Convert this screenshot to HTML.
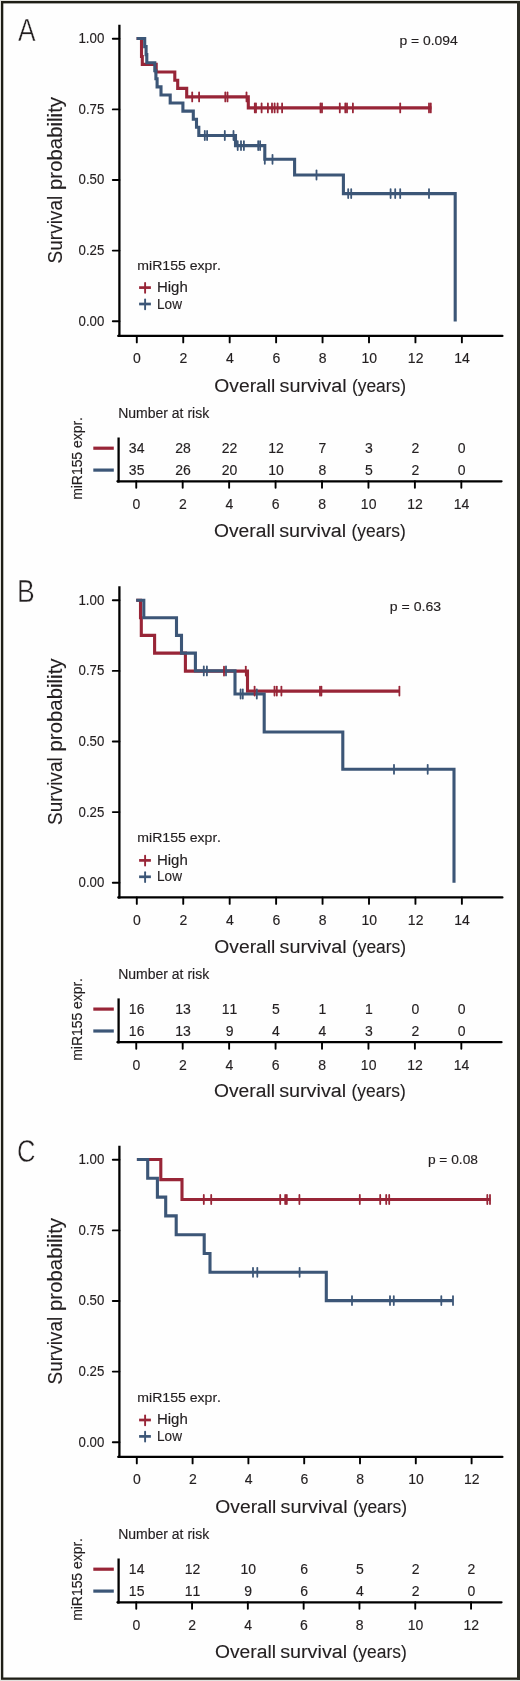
<!DOCTYPE html><html><head><meta charset="utf-8"><style>html,body{margin:0;padding:0;background:#fff;}svg{display:block;font-family:"Liberation Sans", sans-serif;will-change:transform;font-kerning:none;}</style></head><body>
<svg width="520" height="1681" viewBox="0 0 520 1681">
<rect x="0" y="0" width="520" height="1681" fill="#e2e2de"/>
<rect x="1" y="1" width="519" height="1678.8" fill="#1e1e16"/>
<rect x="517" y="1" width="3" height="1678.8" fill="#2c2c24"/>
<rect x="3.3" y="3.4" width="513.7" height="1674.1" fill="#fefefe"/>
<text x="0" y="0" font-size="30.5" fill="#231f20" stroke="#fefefe" stroke-width="0.45" transform="translate(18.05,41.30) scale(0.865,1)">A</text>
<line x1="119.40" y1="24.80" x2="119.40" y2="337.05" stroke="#000" stroke-width="2.3" stroke-linecap="butt"/>
<line x1="118.25" y1="335.90" x2="502.40" y2="335.90" stroke="#000" stroke-width="2.3" stroke-linecap="round"/>
<line x1="118.25" y1="335.90" x2="119.40" y2="335.90" stroke="#000" stroke-width="2.3" stroke-linecap="butt"/>
<line x1="112.80" y1="38.80" x2="119.40" y2="38.80" stroke="#000" stroke-width="1.9" stroke-linecap="round"/>
<text x="78.38" y="43.25" font-size="14.0" fill="#231f20" stroke="#231f20" stroke-width="0.15" textLength="25.94" lengthAdjust="spacingAndGlyphs">1.00</text>
<line x1="112.80" y1="109.40" x2="119.40" y2="109.40" stroke="#000" stroke-width="1.9" stroke-linecap="round"/>
<text x="78.58" y="113.85" font-size="14.0" fill="#231f20" stroke="#231f20" stroke-width="0.15" textLength="25.77" lengthAdjust="spacingAndGlyphs">0.75</text>
<line x1="112.80" y1="180.00" x2="119.40" y2="180.00" stroke="#000" stroke-width="1.9" stroke-linecap="round"/>
<text x="78.58" y="184.45" font-size="14.0" fill="#231f20" stroke="#231f20" stroke-width="0.15" textLength="25.73" lengthAdjust="spacingAndGlyphs">0.50</text>
<line x1="112.80" y1="250.60" x2="119.40" y2="250.60" stroke="#000" stroke-width="1.9" stroke-linecap="round"/>
<text x="78.58" y="255.05" font-size="14.0" fill="#231f20" stroke="#231f20" stroke-width="0.15" textLength="25.77" lengthAdjust="spacingAndGlyphs">0.25</text>
<line x1="112.80" y1="321.20" x2="119.40" y2="321.20" stroke="#000" stroke-width="1.9" stroke-linecap="round"/>
<text x="78.58" y="325.65" font-size="14.0" fill="#231f20" stroke="#231f20" stroke-width="0.15" textLength="25.73" lengthAdjust="spacingAndGlyphs">0.00</text>
<line x1="136.80" y1="335.90" x2="136.80" y2="342.40" stroke="#000" stroke-width="1.9" stroke-linecap="round"/>
<text x="137.00" y="363.00" font-size="14.0" text-anchor="middle" fill="#231f20" stroke="#231f20" stroke-width="0.15" >0</text>
<line x1="183.24" y1="335.90" x2="183.24" y2="342.40" stroke="#000" stroke-width="1.9" stroke-linecap="round"/>
<text x="183.44" y="363.00" font-size="14.0" text-anchor="middle" fill="#231f20" stroke="#231f20" stroke-width="0.15" >2</text>
<line x1="229.68" y1="335.90" x2="229.68" y2="342.40" stroke="#000" stroke-width="1.9" stroke-linecap="round"/>
<text x="229.88" y="363.00" font-size="14.0" text-anchor="middle" fill="#231f20" stroke="#231f20" stroke-width="0.15" >4</text>
<line x1="276.12" y1="335.90" x2="276.12" y2="342.40" stroke="#000" stroke-width="1.9" stroke-linecap="round"/>
<text x="276.32" y="363.00" font-size="14.0" text-anchor="middle" fill="#231f20" stroke="#231f20" stroke-width="0.15" >6</text>
<line x1="322.56" y1="335.90" x2="322.56" y2="342.40" stroke="#000" stroke-width="1.9" stroke-linecap="round"/>
<text x="322.76" y="363.00" font-size="14.0" text-anchor="middle" fill="#231f20" stroke="#231f20" stroke-width="0.15" >8</text>
<line x1="369.00" y1="335.90" x2="369.00" y2="342.40" stroke="#000" stroke-width="1.9" stroke-linecap="round"/>
<text x="369.20" y="363.00" font-size="14.0" text-anchor="middle" fill="#231f20" stroke="#231f20" stroke-width="0.15" >10</text>
<line x1="415.44" y1="335.90" x2="415.44" y2="342.40" stroke="#000" stroke-width="1.9" stroke-linecap="round"/>
<text x="415.64" y="363.00" font-size="14.0" text-anchor="middle" fill="#231f20" stroke="#231f20" stroke-width="0.15" >12</text>
<line x1="461.88" y1="335.90" x2="461.88" y2="342.40" stroke="#000" stroke-width="1.9" stroke-linecap="round"/>
<text x="462.08" y="363.00" font-size="14.0" text-anchor="middle" fill="#231f20" stroke="#231f20" stroke-width="0.15" >14</text>
<text x="214.39" y="391.50" font-size="19.2" fill="#231f20" stroke="#231f20" stroke-width="0.12" textLength="61.00" lengthAdjust="spacingAndGlyphs">Overall</text>
<text x="279.55" y="391.50" font-size="19.2" fill="#231f20" stroke="#231f20" stroke-width="0.12" textLength="67.07" lengthAdjust="spacingAndGlyphs">survival</text>
<text x="351.92" y="391.50" font-size="19.2" fill="#231f20" stroke="#231f20" stroke-width="0.12" textLength="54.16" lengthAdjust="spacingAndGlyphs">(years)</text>
<text x="-263.46" y="61.60" font-size="20.0" fill="#231f20" stroke="#231f20" stroke-width="0.12" textLength="67.64" lengthAdjust="spacingAndGlyphs" transform="rotate(-90)">Survival</text>
<text x="-190.02" y="61.60" font-size="20.0" fill="#231f20" stroke="#231f20" stroke-width="0.12" textLength="93.06" lengthAdjust="spacingAndGlyphs" transform="rotate(-90)">probability</text>
<text x="399.40" y="45.00" font-size="13.2" fill="#231f20" stroke="#231f20" stroke-width="0.15" textLength="58.40" lengthAdjust="spacingAndGlyphs">p = 0.094</text>
<text x="137.37" y="269.50" font-size="13.6" fill="#231f20" stroke="#231f20" stroke-width="0.15" textLength="83.62" lengthAdjust="spacingAndGlyphs">miR155 expr.</text>
<text x="156.97" y="291.80" font-size="14.2" fill="#231f20" stroke="#231f20" stroke-width="0.15" textLength="30.80" lengthAdjust="spacingAndGlyphs">High</text>
<text x="157.09" y="308.60" font-size="14.2" fill="#231f20" stroke="#231f20" stroke-width="0.15" textLength="24.88" lengthAdjust="spacingAndGlyphs">Low</text>
<line x1="145.10" y1="283.00" x2="145.10" y2="292.80" stroke="#982537" stroke-width="1.9" stroke-linecap="round"/>
<line x1="139.10" y1="287.60" x2="150.90" y2="287.60" stroke="#982537" stroke-width="2.7" stroke-linecap="butt"/>
<line x1="145.10" y1="299.40" x2="145.10" y2="309.20" stroke="#3c5677" stroke-width="1.9" stroke-linecap="round"/>
<line x1="139.10" y1="304.00" x2="150.90" y2="304.00" stroke="#3c5677" stroke-width="2.7" stroke-linecap="butt"/>
<path d="M136.60,38.50 L141.50,38.50 L141.50,56.50 L142.30,56.50 L142.30,64.40 L156.20,64.40 L156.20,72.00 L174.80,72.00 L174.80,80.30 L177.70,80.30 L177.70,88.40 L186.70,88.40 L186.70,96.90 L248.30,96.90 L248.30,107.90 L431.50,107.90" fill="none" stroke="#982537" stroke-width="3.1" stroke-linejoin="miter" stroke-linecap="butt"/>
<path d="M136.60,38.50 L144.70,38.50 L144.70,46.60 L146.10,46.60 L146.10,54.60 L146.80,54.60 L146.80,62.70 L154.80,62.70 L154.80,70.80 L155.90,70.80 L155.90,78.80 L157.10,78.80 L157.10,86.90 L161.00,86.90 L161.00,95.00 L170.20,95.00 L170.20,103.00 L182.90,103.00 L182.90,111.10 L193.30,111.10 L193.30,119.20 L196.50,119.20 L196.50,127.20 L198.80,127.20 L198.80,135.50 L235.50,135.50 L235.50,145.60 L264.80,145.60 L264.80,159.30 L294.60,159.30 L294.60,175.00 L343.40,175.00 L343.40,193.60 L455.20,193.60 L455.20,321.50" fill="none" stroke="#3c5677" stroke-width="3.1" stroke-linejoin="miter" stroke-linecap="butt"/>
<line x1="192.20" y1="92.40" x2="192.20" y2="101.40" stroke="#982537" stroke-width="1.8" stroke-linecap="round"/>
<line x1="199.10" y1="92.40" x2="199.10" y2="101.40" stroke="#982537" stroke-width="1.8" stroke-linecap="round"/>
<line x1="225.30" y1="92.40" x2="225.30" y2="101.40" stroke="#982537" stroke-width="1.8" stroke-linecap="round"/>
<line x1="227.50" y1="92.40" x2="227.50" y2="101.40" stroke="#982537" stroke-width="1.8" stroke-linecap="round"/>
<line x1="246.50" y1="92.40" x2="246.50" y2="101.40" stroke="#982537" stroke-width="1.8" stroke-linecap="round"/>
<line x1="254.80" y1="103.40" x2="254.80" y2="112.40" stroke="#982537" stroke-width="1.8" stroke-linecap="round"/>
<line x1="256.00" y1="103.40" x2="256.00" y2="112.40" stroke="#982537" stroke-width="1.8" stroke-linecap="round"/>
<line x1="261.60" y1="103.40" x2="261.60" y2="112.40" stroke="#982537" stroke-width="1.8" stroke-linecap="round"/>
<line x1="267.90" y1="103.40" x2="267.90" y2="112.40" stroke="#982537" stroke-width="1.8" stroke-linecap="round"/>
<line x1="272.00" y1="103.40" x2="272.00" y2="112.40" stroke="#982537" stroke-width="1.8" stroke-linecap="round"/>
<line x1="274.60" y1="103.40" x2="274.60" y2="112.40" stroke="#982537" stroke-width="1.8" stroke-linecap="round"/>
<line x1="277.60" y1="103.40" x2="277.60" y2="112.40" stroke="#982537" stroke-width="1.8" stroke-linecap="round"/>
<line x1="282.10" y1="103.40" x2="282.10" y2="112.40" stroke="#982537" stroke-width="1.8" stroke-linecap="round"/>
<line x1="320.50" y1="103.40" x2="320.50" y2="112.40" stroke="#982537" stroke-width="1.8" stroke-linecap="round"/>
<line x1="322.00" y1="103.40" x2="322.00" y2="112.40" stroke="#982537" stroke-width="1.8" stroke-linecap="round"/>
<line x1="339.80" y1="103.40" x2="339.80" y2="112.40" stroke="#982537" stroke-width="1.8" stroke-linecap="round"/>
<line x1="345.30" y1="103.40" x2="345.30" y2="112.40" stroke="#982537" stroke-width="1.8" stroke-linecap="round"/>
<line x1="347.00" y1="103.40" x2="347.00" y2="112.40" stroke="#982537" stroke-width="1.8" stroke-linecap="round"/>
<line x1="352.90" y1="103.40" x2="352.90" y2="112.40" stroke="#982537" stroke-width="1.8" stroke-linecap="round"/>
<line x1="400.20" y1="103.40" x2="400.20" y2="112.40" stroke="#982537" stroke-width="1.8" stroke-linecap="round"/>
<line x1="429.00" y1="103.40" x2="429.00" y2="112.40" stroke="#982537" stroke-width="1.8" stroke-linecap="round"/>
<line x1="430.80" y1="103.40" x2="430.80" y2="112.40" stroke="#982537" stroke-width="1.8" stroke-linecap="round"/>
<line x1="204.80" y1="131.00" x2="204.80" y2="140.00" stroke="#3c5677" stroke-width="1.8" stroke-linecap="round"/>
<line x1="207.10" y1="131.00" x2="207.10" y2="140.00" stroke="#3c5677" stroke-width="1.8" stroke-linecap="round"/>
<line x1="224.80" y1="131.00" x2="224.80" y2="140.00" stroke="#3c5677" stroke-width="1.8" stroke-linecap="round"/>
<line x1="233.50" y1="131.00" x2="233.50" y2="140.00" stroke="#3c5677" stroke-width="1.8" stroke-linecap="round"/>
<line x1="237.70" y1="141.10" x2="237.70" y2="150.10" stroke="#3c5677" stroke-width="1.8" stroke-linecap="round"/>
<line x1="241.00" y1="141.10" x2="241.00" y2="150.10" stroke="#3c5677" stroke-width="1.8" stroke-linecap="round"/>
<line x1="243.90" y1="141.10" x2="243.90" y2="150.10" stroke="#3c5677" stroke-width="1.8" stroke-linecap="round"/>
<line x1="258.20" y1="141.10" x2="258.20" y2="150.10" stroke="#3c5677" stroke-width="1.8" stroke-linecap="round"/>
<line x1="260.10" y1="141.10" x2="260.10" y2="150.10" stroke="#3c5677" stroke-width="1.8" stroke-linecap="round"/>
<line x1="264.80" y1="154.80" x2="264.80" y2="163.80" stroke="#3c5677" stroke-width="1.8" stroke-linecap="round"/>
<line x1="272.50" y1="154.80" x2="272.50" y2="163.80" stroke="#3c5677" stroke-width="1.8" stroke-linecap="round"/>
<line x1="316.50" y1="170.50" x2="316.50" y2="179.50" stroke="#3c5677" stroke-width="1.8" stroke-linecap="round"/>
<line x1="348.20" y1="189.10" x2="348.20" y2="198.10" stroke="#3c5677" stroke-width="1.8" stroke-linecap="round"/>
<line x1="351.20" y1="189.10" x2="351.20" y2="198.10" stroke="#3c5677" stroke-width="1.8" stroke-linecap="round"/>
<line x1="390.60" y1="189.10" x2="390.60" y2="198.10" stroke="#3c5677" stroke-width="1.8" stroke-linecap="round"/>
<line x1="395.20" y1="189.10" x2="395.20" y2="198.10" stroke="#3c5677" stroke-width="1.8" stroke-linecap="round"/>
<line x1="400.20" y1="189.10" x2="400.20" y2="198.10" stroke="#3c5677" stroke-width="1.8" stroke-linecap="round"/>
<line x1="429.00" y1="189.10" x2="429.00" y2="198.10" stroke="#3c5677" stroke-width="1.8" stroke-linecap="round"/>
<text x="118.15" y="417.60" font-size="13.8" fill="#231f20" stroke="#231f20" stroke-width="0.15" textLength="91.03" lengthAdjust="spacingAndGlyphs">Number at risk</text>
<text x="-499.82" y="82.10" font-size="14.2" fill="#231f20" stroke="#231f20" stroke-width="0.15" textLength="82.69" lengthAdjust="spacingAndGlyphs" transform="rotate(-90)">miR155 expr.</text>
<line x1="118.60" y1="437.50" x2="118.60" y2="482.45" stroke="#000" stroke-width="2.3" stroke-linecap="butt"/>
<line x1="117.45" y1="481.30" x2="501.50" y2="481.30" stroke="#000" stroke-width="2.3" stroke-linecap="round"/>
<line x1="117.45" y1="481.30" x2="118.60" y2="481.30" stroke="#000" stroke-width="2.3" stroke-linecap="butt"/>
<line x1="93.30" y1="448.20" x2="113.80" y2="448.20" stroke="#982537" stroke-width="3.2" stroke-linecap="butt"/>
<line x1="93.30" y1="470.10" x2="113.80" y2="470.10" stroke="#3c5677" stroke-width="3.2" stroke-linecap="butt"/>
<line x1="136.25" y1="481.30" x2="136.25" y2="487.80" stroke="#000" stroke-width="1.9" stroke-linecap="round"/>
<text x="136.45" y="508.60" font-size="14.0" text-anchor="middle" fill="#231f20" stroke="#231f20" stroke-width="0.15" >0</text>
<text x="136.65" y="453.20" font-size="14.0" text-anchor="middle" fill="#231f20" stroke="#231f20" stroke-width="0.15" >34</text>
<text x="136.65" y="474.70" font-size="14.0" text-anchor="middle" fill="#231f20" stroke="#231f20" stroke-width="0.15" >35</text>
<line x1="182.69" y1="481.30" x2="182.69" y2="487.80" stroke="#000" stroke-width="1.9" stroke-linecap="round"/>
<text x="182.89" y="508.60" font-size="14.0" text-anchor="middle" fill="#231f20" stroke="#231f20" stroke-width="0.15" >2</text>
<text x="183.09" y="453.20" font-size="14.0" text-anchor="middle" fill="#231f20" stroke="#231f20" stroke-width="0.15" >28</text>
<text x="183.09" y="474.70" font-size="14.0" text-anchor="middle" fill="#231f20" stroke="#231f20" stroke-width="0.15" >26</text>
<line x1="229.13" y1="481.30" x2="229.13" y2="487.80" stroke="#000" stroke-width="1.9" stroke-linecap="round"/>
<text x="229.33" y="508.60" font-size="14.0" text-anchor="middle" fill="#231f20" stroke="#231f20" stroke-width="0.15" >4</text>
<text x="229.53" y="453.20" font-size="14.0" text-anchor="middle" fill="#231f20" stroke="#231f20" stroke-width="0.15" >22</text>
<text x="229.53" y="474.70" font-size="14.0" text-anchor="middle" fill="#231f20" stroke="#231f20" stroke-width="0.15" >20</text>
<line x1="275.57" y1="481.30" x2="275.57" y2="487.80" stroke="#000" stroke-width="1.9" stroke-linecap="round"/>
<text x="275.77" y="508.60" font-size="14.0" text-anchor="middle" fill="#231f20" stroke="#231f20" stroke-width="0.15" >6</text>
<text x="275.97" y="453.20" font-size="14.0" text-anchor="middle" fill="#231f20" stroke="#231f20" stroke-width="0.15" >12</text>
<text x="275.97" y="474.70" font-size="14.0" text-anchor="middle" fill="#231f20" stroke="#231f20" stroke-width="0.15" >10</text>
<line x1="322.01" y1="481.30" x2="322.01" y2="487.80" stroke="#000" stroke-width="1.9" stroke-linecap="round"/>
<text x="322.21" y="508.60" font-size="14.0" text-anchor="middle" fill="#231f20" stroke="#231f20" stroke-width="0.15" >8</text>
<text x="322.41" y="453.20" font-size="14.0" text-anchor="middle" fill="#231f20" stroke="#231f20" stroke-width="0.15" >7</text>
<text x="322.41" y="474.70" font-size="14.0" text-anchor="middle" fill="#231f20" stroke="#231f20" stroke-width="0.15" >8</text>
<line x1="368.45" y1="481.30" x2="368.45" y2="487.80" stroke="#000" stroke-width="1.9" stroke-linecap="round"/>
<text x="368.65" y="508.60" font-size="14.0" text-anchor="middle" fill="#231f20" stroke="#231f20" stroke-width="0.15" >10</text>
<text x="368.85" y="453.20" font-size="14.0" text-anchor="middle" fill="#231f20" stroke="#231f20" stroke-width="0.15" >3</text>
<text x="368.85" y="474.70" font-size="14.0" text-anchor="middle" fill="#231f20" stroke="#231f20" stroke-width="0.15" >5</text>
<line x1="414.89" y1="481.30" x2="414.89" y2="487.80" stroke="#000" stroke-width="1.9" stroke-linecap="round"/>
<text x="415.09" y="508.60" font-size="14.0" text-anchor="middle" fill="#231f20" stroke="#231f20" stroke-width="0.15" >12</text>
<text x="415.29" y="453.20" font-size="14.0" text-anchor="middle" fill="#231f20" stroke="#231f20" stroke-width="0.15" >2</text>
<text x="415.29" y="474.70" font-size="14.0" text-anchor="middle" fill="#231f20" stroke="#231f20" stroke-width="0.15" >2</text>
<line x1="461.33" y1="481.30" x2="461.33" y2="487.80" stroke="#000" stroke-width="1.9" stroke-linecap="round"/>
<text x="461.53" y="508.60" font-size="14.0" text-anchor="middle" fill="#231f20" stroke="#231f20" stroke-width="0.15" >14</text>
<text x="461.73" y="453.20" font-size="14.0" text-anchor="middle" fill="#231f20" stroke="#231f20" stroke-width="0.15" >0</text>
<text x="461.73" y="474.70" font-size="14.0" text-anchor="middle" fill="#231f20" stroke="#231f20" stroke-width="0.15" >0</text>
<text x="213.99" y="536.50" font-size="19.2" fill="#231f20" stroke="#231f20" stroke-width="0.12" textLength="61.00" lengthAdjust="spacingAndGlyphs">Overall</text>
<text x="279.15" y="536.50" font-size="19.2" fill="#231f20" stroke="#231f20" stroke-width="0.12" textLength="67.07" lengthAdjust="spacingAndGlyphs">survival</text>
<text x="351.52" y="536.50" font-size="19.2" fill="#231f20" stroke="#231f20" stroke-width="0.12" textLength="54.16" lengthAdjust="spacingAndGlyphs">(years)</text>
<text x="0" y="0" font-size="30.5" fill="#231f20" stroke="#fefefe" stroke-width="0.45" transform="translate(17.12,601.90) scale(0.87,1)">B</text>
<line x1="119.40" y1="586.30" x2="119.40" y2="898.55" stroke="#000" stroke-width="2.3" stroke-linecap="butt"/>
<line x1="118.25" y1="897.40" x2="502.40" y2="897.40" stroke="#000" stroke-width="2.3" stroke-linecap="round"/>
<line x1="118.25" y1="897.40" x2="119.40" y2="897.40" stroke="#000" stroke-width="2.3" stroke-linecap="butt"/>
<line x1="112.80" y1="600.30" x2="119.40" y2="600.30" stroke="#000" stroke-width="1.9" stroke-linecap="round"/>
<text x="78.38" y="604.75" font-size="14.0" fill="#231f20" stroke="#231f20" stroke-width="0.15" textLength="25.94" lengthAdjust="spacingAndGlyphs">1.00</text>
<line x1="112.80" y1="670.90" x2="119.40" y2="670.90" stroke="#000" stroke-width="1.9" stroke-linecap="round"/>
<text x="78.58" y="675.35" font-size="14.0" fill="#231f20" stroke="#231f20" stroke-width="0.15" textLength="25.77" lengthAdjust="spacingAndGlyphs">0.75</text>
<line x1="112.80" y1="741.50" x2="119.40" y2="741.50" stroke="#000" stroke-width="1.9" stroke-linecap="round"/>
<text x="78.58" y="745.95" font-size="14.0" fill="#231f20" stroke="#231f20" stroke-width="0.15" textLength="25.73" lengthAdjust="spacingAndGlyphs">0.50</text>
<line x1="112.80" y1="812.10" x2="119.40" y2="812.10" stroke="#000" stroke-width="1.9" stroke-linecap="round"/>
<text x="78.58" y="816.55" font-size="14.0" fill="#231f20" stroke="#231f20" stroke-width="0.15" textLength="25.77" lengthAdjust="spacingAndGlyphs">0.25</text>
<line x1="112.80" y1="882.70" x2="119.40" y2="882.70" stroke="#000" stroke-width="1.9" stroke-linecap="round"/>
<text x="78.58" y="887.15" font-size="14.0" fill="#231f20" stroke="#231f20" stroke-width="0.15" textLength="25.73" lengthAdjust="spacingAndGlyphs">0.00</text>
<line x1="136.80" y1="897.40" x2="136.80" y2="903.90" stroke="#000" stroke-width="1.9" stroke-linecap="round"/>
<text x="137.00" y="924.50" font-size="14.0" text-anchor="middle" fill="#231f20" stroke="#231f20" stroke-width="0.15" >0</text>
<line x1="183.24" y1="897.40" x2="183.24" y2="903.90" stroke="#000" stroke-width="1.9" stroke-linecap="round"/>
<text x="183.44" y="924.50" font-size="14.0" text-anchor="middle" fill="#231f20" stroke="#231f20" stroke-width="0.15" >2</text>
<line x1="229.68" y1="897.40" x2="229.68" y2="903.90" stroke="#000" stroke-width="1.9" stroke-linecap="round"/>
<text x="229.88" y="924.50" font-size="14.0" text-anchor="middle" fill="#231f20" stroke="#231f20" stroke-width="0.15" >4</text>
<line x1="276.12" y1="897.40" x2="276.12" y2="903.90" stroke="#000" stroke-width="1.9" stroke-linecap="round"/>
<text x="276.32" y="924.50" font-size="14.0" text-anchor="middle" fill="#231f20" stroke="#231f20" stroke-width="0.15" >6</text>
<line x1="322.56" y1="897.40" x2="322.56" y2="903.90" stroke="#000" stroke-width="1.9" stroke-linecap="round"/>
<text x="322.76" y="924.50" font-size="14.0" text-anchor="middle" fill="#231f20" stroke="#231f20" stroke-width="0.15" >8</text>
<line x1="369.00" y1="897.40" x2="369.00" y2="903.90" stroke="#000" stroke-width="1.9" stroke-linecap="round"/>
<text x="369.20" y="924.50" font-size="14.0" text-anchor="middle" fill="#231f20" stroke="#231f20" stroke-width="0.15" >10</text>
<line x1="415.44" y1="897.40" x2="415.44" y2="903.90" stroke="#000" stroke-width="1.9" stroke-linecap="round"/>
<text x="415.64" y="924.50" font-size="14.0" text-anchor="middle" fill="#231f20" stroke="#231f20" stroke-width="0.15" >12</text>
<line x1="461.88" y1="897.40" x2="461.88" y2="903.90" stroke="#000" stroke-width="1.9" stroke-linecap="round"/>
<text x="462.08" y="924.50" font-size="14.0" text-anchor="middle" fill="#231f20" stroke="#231f20" stroke-width="0.15" >14</text>
<text x="214.39" y="952.70" font-size="19.2" fill="#231f20" stroke="#231f20" stroke-width="0.12" textLength="61.00" lengthAdjust="spacingAndGlyphs">Overall</text>
<text x="279.55" y="952.70" font-size="19.2" fill="#231f20" stroke="#231f20" stroke-width="0.12" textLength="67.07" lengthAdjust="spacingAndGlyphs">survival</text>
<text x="351.92" y="952.70" font-size="19.2" fill="#231f20" stroke="#231f20" stroke-width="0.12" textLength="54.16" lengthAdjust="spacingAndGlyphs">(years)</text>
<text x="-824.96" y="61.60" font-size="20.0" fill="#231f20" stroke="#231f20" stroke-width="0.12" textLength="67.64" lengthAdjust="spacingAndGlyphs" transform="rotate(-90)">Survival</text>
<text x="-751.52" y="61.60" font-size="20.0" fill="#231f20" stroke="#231f20" stroke-width="0.12" textLength="93.06" lengthAdjust="spacingAndGlyphs" transform="rotate(-90)">probability</text>
<text x="389.89" y="611.10" font-size="13.2" fill="#231f20" stroke="#231f20" stroke-width="0.15" textLength="51.22" lengthAdjust="spacingAndGlyphs">p = 0.63</text>
<text x="137.37" y="842.30" font-size="13.6" fill="#231f20" stroke="#231f20" stroke-width="0.15" textLength="83.62" lengthAdjust="spacingAndGlyphs">miR155 expr.</text>
<text x="156.97" y="864.60" font-size="14.2" fill="#231f20" stroke="#231f20" stroke-width="0.15" textLength="30.80" lengthAdjust="spacingAndGlyphs">High</text>
<text x="157.09" y="881.40" font-size="14.2" fill="#231f20" stroke="#231f20" stroke-width="0.15" textLength="24.88" lengthAdjust="spacingAndGlyphs">Low</text>
<line x1="145.10" y1="855.80" x2="145.10" y2="865.60" stroke="#982537" stroke-width="1.9" stroke-linecap="round"/>
<line x1="139.10" y1="860.40" x2="150.90" y2="860.40" stroke="#982537" stroke-width="2.7" stroke-linecap="butt"/>
<line x1="145.10" y1="872.20" x2="145.10" y2="882.00" stroke="#3c5677" stroke-width="1.9" stroke-linecap="round"/>
<line x1="139.10" y1="876.80" x2="150.90" y2="876.80" stroke="#3c5677" stroke-width="2.7" stroke-linecap="butt"/>
<path d="M136.20,600.20 L140.50,600.20 L140.50,617.80 L141.30,617.80 L141.30,635.40 L154.60,635.40 L154.60,653.10 L185.40,653.10 L185.40,671.10 L247.50,671.10 L247.50,691.10 L399.40,691.10" fill="none" stroke="#982537" stroke-width="3.1" stroke-linejoin="miter" stroke-linecap="butt"/>
<path d="M136.20,600.20 L143.80,600.20 L143.80,617.80 L176.50,617.80 L176.50,635.40 L181.50,635.40 L181.50,653.10 L195.40,653.10 L195.40,670.90 L235.00,670.90 L235.00,694.00 L264.20,694.00 L264.20,732.00 L342.80,732.00 L342.80,769.30 L454.00,769.30 L454.00,882.80" fill="none" stroke="#3c5677" stroke-width="3.1" stroke-linejoin="miter" stroke-linecap="butt"/>
<line x1="224.00" y1="666.60" x2="224.00" y2="675.60" stroke="#982537" stroke-width="1.8" stroke-linecap="round"/>
<line x1="245.80" y1="666.60" x2="245.80" y2="675.60" stroke="#982537" stroke-width="1.8" stroke-linecap="round"/>
<line x1="254.60" y1="686.60" x2="254.60" y2="695.60" stroke="#982537" stroke-width="1.8" stroke-linecap="round"/>
<line x1="274.50" y1="686.60" x2="274.50" y2="695.60" stroke="#982537" stroke-width="1.8" stroke-linecap="round"/>
<line x1="276.80" y1="686.60" x2="276.80" y2="695.60" stroke="#982537" stroke-width="1.8" stroke-linecap="round"/>
<line x1="281.40" y1="686.60" x2="281.40" y2="695.60" stroke="#982537" stroke-width="1.8" stroke-linecap="round"/>
<line x1="320.00" y1="686.60" x2="320.00" y2="695.60" stroke="#982537" stroke-width="1.8" stroke-linecap="round"/>
<line x1="321.40" y1="686.60" x2="321.40" y2="695.60" stroke="#982537" stroke-width="1.8" stroke-linecap="round"/>
<line x1="399.40" y1="686.60" x2="399.40" y2="695.60" stroke="#982537" stroke-width="1.8" stroke-linecap="round"/>
<line x1="203.80" y1="666.40" x2="203.80" y2="675.40" stroke="#3c5677" stroke-width="1.8" stroke-linecap="round"/>
<line x1="206.90" y1="666.40" x2="206.90" y2="675.40" stroke="#3c5677" stroke-width="1.8" stroke-linecap="round"/>
<line x1="226.00" y1="666.40" x2="226.00" y2="675.40" stroke="#3c5677" stroke-width="1.8" stroke-linecap="round"/>
<line x1="240.60" y1="689.50" x2="240.60" y2="698.50" stroke="#3c5677" stroke-width="1.8" stroke-linecap="round"/>
<line x1="242.80" y1="689.50" x2="242.80" y2="698.50" stroke="#3c5677" stroke-width="1.8" stroke-linecap="round"/>
<line x1="256.80" y1="689.50" x2="256.80" y2="698.50" stroke="#3c5677" stroke-width="1.8" stroke-linecap="round"/>
<line x1="394.00" y1="764.80" x2="394.00" y2="773.80" stroke="#3c5677" stroke-width="1.8" stroke-linecap="round"/>
<line x1="427.70" y1="764.80" x2="427.70" y2="773.80" stroke="#3c5677" stroke-width="1.8" stroke-linecap="round"/>
<text x="118.15" y="978.50" font-size="13.8" fill="#231f20" stroke="#231f20" stroke-width="0.15" textLength="91.03" lengthAdjust="spacingAndGlyphs">Number at risk</text>
<text x="-1060.72" y="82.10" font-size="14.2" fill="#231f20" stroke="#231f20" stroke-width="0.15" textLength="82.69" lengthAdjust="spacingAndGlyphs" transform="rotate(-90)">miR155 expr.</text>
<line x1="118.60" y1="998.40" x2="118.60" y2="1043.35" stroke="#000" stroke-width="2.3" stroke-linecap="butt"/>
<line x1="117.45" y1="1042.20" x2="501.50" y2="1042.20" stroke="#000" stroke-width="2.3" stroke-linecap="round"/>
<line x1="117.45" y1="1042.20" x2="118.60" y2="1042.20" stroke="#000" stroke-width="2.3" stroke-linecap="butt"/>
<line x1="93.30" y1="1009.10" x2="113.80" y2="1009.10" stroke="#982537" stroke-width="3.2" stroke-linecap="butt"/>
<line x1="93.30" y1="1031.00" x2="113.80" y2="1031.00" stroke="#3c5677" stroke-width="3.2" stroke-linecap="butt"/>
<line x1="136.25" y1="1042.20" x2="136.25" y2="1048.70" stroke="#000" stroke-width="1.9" stroke-linecap="round"/>
<text x="136.45" y="1069.50" font-size="14.0" text-anchor="middle" fill="#231f20" stroke="#231f20" stroke-width="0.15" >0</text>
<text x="136.65" y="1014.10" font-size="14.0" text-anchor="middle" fill="#231f20" stroke="#231f20" stroke-width="0.15" >16</text>
<text x="136.65" y="1035.60" font-size="14.0" text-anchor="middle" fill="#231f20" stroke="#231f20" stroke-width="0.15" >16</text>
<line x1="182.69" y1="1042.20" x2="182.69" y2="1048.70" stroke="#000" stroke-width="1.9" stroke-linecap="round"/>
<text x="182.89" y="1069.50" font-size="14.0" text-anchor="middle" fill="#231f20" stroke="#231f20" stroke-width="0.15" >2</text>
<text x="183.09" y="1014.10" font-size="14.0" text-anchor="middle" fill="#231f20" stroke="#231f20" stroke-width="0.15" >13</text>
<text x="183.09" y="1035.60" font-size="14.0" text-anchor="middle" fill="#231f20" stroke="#231f20" stroke-width="0.15" >13</text>
<line x1="229.13" y1="1042.20" x2="229.13" y2="1048.70" stroke="#000" stroke-width="1.9" stroke-linecap="round"/>
<text x="229.33" y="1069.50" font-size="14.0" text-anchor="middle" fill="#231f20" stroke="#231f20" stroke-width="0.15" >4</text>
<text x="229.53" y="1014.10" font-size="14.0" text-anchor="middle" fill="#231f20" stroke="#231f20" stroke-width="0.15" >11</text>
<text x="229.53" y="1035.60" font-size="14.0" text-anchor="middle" fill="#231f20" stroke="#231f20" stroke-width="0.15" >9</text>
<line x1="275.57" y1="1042.20" x2="275.57" y2="1048.70" stroke="#000" stroke-width="1.9" stroke-linecap="round"/>
<text x="275.77" y="1069.50" font-size="14.0" text-anchor="middle" fill="#231f20" stroke="#231f20" stroke-width="0.15" >6</text>
<text x="275.97" y="1014.10" font-size="14.0" text-anchor="middle" fill="#231f20" stroke="#231f20" stroke-width="0.15" >5</text>
<text x="275.97" y="1035.60" font-size="14.0" text-anchor="middle" fill="#231f20" stroke="#231f20" stroke-width="0.15" >4</text>
<line x1="322.01" y1="1042.20" x2="322.01" y2="1048.70" stroke="#000" stroke-width="1.9" stroke-linecap="round"/>
<text x="322.21" y="1069.50" font-size="14.0" text-anchor="middle" fill="#231f20" stroke="#231f20" stroke-width="0.15" >8</text>
<text x="322.41" y="1014.10" font-size="14.0" text-anchor="middle" fill="#231f20" stroke="#231f20" stroke-width="0.15" >1</text>
<text x="322.41" y="1035.60" font-size="14.0" text-anchor="middle" fill="#231f20" stroke="#231f20" stroke-width="0.15" >4</text>
<line x1="368.45" y1="1042.20" x2="368.45" y2="1048.70" stroke="#000" stroke-width="1.9" stroke-linecap="round"/>
<text x="368.65" y="1069.50" font-size="14.0" text-anchor="middle" fill="#231f20" stroke="#231f20" stroke-width="0.15" >10</text>
<text x="368.85" y="1014.10" font-size="14.0" text-anchor="middle" fill="#231f20" stroke="#231f20" stroke-width="0.15" >1</text>
<text x="368.85" y="1035.60" font-size="14.0" text-anchor="middle" fill="#231f20" stroke="#231f20" stroke-width="0.15" >3</text>
<line x1="414.89" y1="1042.20" x2="414.89" y2="1048.70" stroke="#000" stroke-width="1.9" stroke-linecap="round"/>
<text x="415.09" y="1069.50" font-size="14.0" text-anchor="middle" fill="#231f20" stroke="#231f20" stroke-width="0.15" >12</text>
<text x="415.29" y="1014.10" font-size="14.0" text-anchor="middle" fill="#231f20" stroke="#231f20" stroke-width="0.15" >0</text>
<text x="415.29" y="1035.60" font-size="14.0" text-anchor="middle" fill="#231f20" stroke="#231f20" stroke-width="0.15" >2</text>
<line x1="461.33" y1="1042.20" x2="461.33" y2="1048.70" stroke="#000" stroke-width="1.9" stroke-linecap="round"/>
<text x="461.53" y="1069.50" font-size="14.0" text-anchor="middle" fill="#231f20" stroke="#231f20" stroke-width="0.15" >14</text>
<text x="461.73" y="1014.10" font-size="14.0" text-anchor="middle" fill="#231f20" stroke="#231f20" stroke-width="0.15" >0</text>
<text x="461.73" y="1035.60" font-size="14.0" text-anchor="middle" fill="#231f20" stroke="#231f20" stroke-width="0.15" >0</text>
<text x="213.99" y="1097.40" font-size="19.2" fill="#231f20" stroke="#231f20" stroke-width="0.12" textLength="61.00" lengthAdjust="spacingAndGlyphs">Overall</text>
<text x="279.15" y="1097.40" font-size="19.2" fill="#231f20" stroke="#231f20" stroke-width="0.12" textLength="67.07" lengthAdjust="spacingAndGlyphs">survival</text>
<text x="351.52" y="1097.40" font-size="19.2" fill="#231f20" stroke="#231f20" stroke-width="0.12" textLength="54.16" lengthAdjust="spacingAndGlyphs">(years)</text>
<text x="0" y="0" font-size="30.5" fill="#231f20" stroke="#fefefe" stroke-width="0.45" transform="translate(17.10,1162.00) scale(0.84,1)">C</text>
<line x1="119.40" y1="1145.80" x2="119.40" y2="1458.05" stroke="#000" stroke-width="2.3" stroke-linecap="butt"/>
<line x1="118.25" y1="1456.90" x2="502.40" y2="1456.90" stroke="#000" stroke-width="2.3" stroke-linecap="round"/>
<line x1="118.25" y1="1456.90" x2="119.40" y2="1456.90" stroke="#000" stroke-width="2.3" stroke-linecap="butt"/>
<line x1="112.80" y1="1159.80" x2="119.40" y2="1159.80" stroke="#000" stroke-width="1.9" stroke-linecap="round"/>
<text x="78.38" y="1164.25" font-size="14.0" fill="#231f20" stroke="#231f20" stroke-width="0.15" textLength="25.94" lengthAdjust="spacingAndGlyphs">1.00</text>
<line x1="112.80" y1="1230.40" x2="119.40" y2="1230.40" stroke="#000" stroke-width="1.9" stroke-linecap="round"/>
<text x="78.58" y="1234.85" font-size="14.0" fill="#231f20" stroke="#231f20" stroke-width="0.15" textLength="25.77" lengthAdjust="spacingAndGlyphs">0.75</text>
<line x1="112.80" y1="1301.00" x2="119.40" y2="1301.00" stroke="#000" stroke-width="1.9" stroke-linecap="round"/>
<text x="78.58" y="1305.45" font-size="14.0" fill="#231f20" stroke="#231f20" stroke-width="0.15" textLength="25.73" lengthAdjust="spacingAndGlyphs">0.50</text>
<line x1="112.80" y1="1371.60" x2="119.40" y2="1371.60" stroke="#000" stroke-width="1.9" stroke-linecap="round"/>
<text x="78.58" y="1376.05" font-size="14.0" fill="#231f20" stroke="#231f20" stroke-width="0.15" textLength="25.77" lengthAdjust="spacingAndGlyphs">0.25</text>
<line x1="112.80" y1="1442.20" x2="119.40" y2="1442.20" stroke="#000" stroke-width="1.9" stroke-linecap="round"/>
<text x="78.58" y="1446.65" font-size="14.0" fill="#231f20" stroke="#231f20" stroke-width="0.15" textLength="25.73" lengthAdjust="spacingAndGlyphs">0.00</text>
<line x1="136.80" y1="1456.90" x2="136.80" y2="1463.40" stroke="#000" stroke-width="1.9" stroke-linecap="round"/>
<text x="137.00" y="1484.00" font-size="14.0" text-anchor="middle" fill="#231f20" stroke="#231f20" stroke-width="0.15" >0</text>
<line x1="192.60" y1="1456.90" x2="192.60" y2="1463.40" stroke="#000" stroke-width="1.9" stroke-linecap="round"/>
<text x="192.80" y="1484.00" font-size="14.0" text-anchor="middle" fill="#231f20" stroke="#231f20" stroke-width="0.15" >2</text>
<line x1="248.40" y1="1456.90" x2="248.40" y2="1463.40" stroke="#000" stroke-width="1.9" stroke-linecap="round"/>
<text x="248.60" y="1484.00" font-size="14.0" text-anchor="middle" fill="#231f20" stroke="#231f20" stroke-width="0.15" >4</text>
<line x1="304.20" y1="1456.90" x2="304.20" y2="1463.40" stroke="#000" stroke-width="1.9" stroke-linecap="round"/>
<text x="304.40" y="1484.00" font-size="14.0" text-anchor="middle" fill="#231f20" stroke="#231f20" stroke-width="0.15" >6</text>
<line x1="360.00" y1="1456.90" x2="360.00" y2="1463.40" stroke="#000" stroke-width="1.9" stroke-linecap="round"/>
<text x="360.20" y="1484.00" font-size="14.0" text-anchor="middle" fill="#231f20" stroke="#231f20" stroke-width="0.15" >8</text>
<line x1="415.80" y1="1456.90" x2="415.80" y2="1463.40" stroke="#000" stroke-width="1.9" stroke-linecap="round"/>
<text x="416.00" y="1484.00" font-size="14.0" text-anchor="middle" fill="#231f20" stroke="#231f20" stroke-width="0.15" >10</text>
<line x1="471.60" y1="1456.90" x2="471.60" y2="1463.40" stroke="#000" stroke-width="1.9" stroke-linecap="round"/>
<text x="471.80" y="1484.00" font-size="14.0" text-anchor="middle" fill="#231f20" stroke="#231f20" stroke-width="0.15" >12</text>
<text x="215.39" y="1512.50" font-size="19.2" fill="#231f20" stroke="#231f20" stroke-width="0.12" textLength="61.00" lengthAdjust="spacingAndGlyphs">Overall</text>
<text x="280.55" y="1512.50" font-size="19.2" fill="#231f20" stroke="#231f20" stroke-width="0.12" textLength="67.07" lengthAdjust="spacingAndGlyphs">survival</text>
<text x="352.92" y="1512.50" font-size="19.2" fill="#231f20" stroke="#231f20" stroke-width="0.12" textLength="54.16" lengthAdjust="spacingAndGlyphs">(years)</text>
<text x="-1384.46" y="61.60" font-size="20.0" fill="#231f20" stroke="#231f20" stroke-width="0.12" textLength="67.64" lengthAdjust="spacingAndGlyphs" transform="rotate(-90)">Survival</text>
<text x="-1311.02" y="61.60" font-size="20.0" fill="#231f20" stroke="#231f20" stroke-width="0.12" textLength="93.06" lengthAdjust="spacingAndGlyphs" transform="rotate(-90)">probability</text>
<text x="427.91" y="1164.20" font-size="13.2" fill="#231f20" stroke="#231f20" stroke-width="0.15" textLength="50.08" lengthAdjust="spacingAndGlyphs">p = 0.08</text>
<text x="137.37" y="1401.90" font-size="13.6" fill="#231f20" stroke="#231f20" stroke-width="0.15" textLength="83.62" lengthAdjust="spacingAndGlyphs">miR155 expr.</text>
<text x="156.97" y="1424.20" font-size="14.2" fill="#231f20" stroke="#231f20" stroke-width="0.15" textLength="30.80" lengthAdjust="spacingAndGlyphs">High</text>
<text x="157.09" y="1441.00" font-size="14.2" fill="#231f20" stroke="#231f20" stroke-width="0.15" textLength="24.88" lengthAdjust="spacingAndGlyphs">Low</text>
<line x1="145.10" y1="1415.40" x2="145.10" y2="1425.20" stroke="#982537" stroke-width="1.9" stroke-linecap="round"/>
<line x1="139.10" y1="1420.00" x2="150.90" y2="1420.00" stroke="#982537" stroke-width="2.7" stroke-linecap="butt"/>
<line x1="145.10" y1="1431.80" x2="145.10" y2="1441.60" stroke="#3c5677" stroke-width="1.9" stroke-linecap="round"/>
<line x1="139.10" y1="1436.40" x2="150.90" y2="1436.40" stroke="#3c5677" stroke-width="2.7" stroke-linecap="butt"/>
<path d="M136.90,1159.50 L160.80,1159.50 L160.80,1179.60 L182.00,1179.60 L182.00,1199.50 L490.60,1199.50" fill="none" stroke="#982537" stroke-width="3.1" stroke-linejoin="miter" stroke-linecap="butt"/>
<path d="M136.90,1159.50 L147.70,1159.50 L147.70,1178.30 L157.40,1178.30 L157.40,1197.10 L165.70,1197.10 L165.70,1215.90 L176.20,1215.90 L176.20,1234.70 L204.20,1234.70 L204.20,1253.50 L210.00,1253.50 L210.00,1272.30 L326.30,1272.30 L326.30,1300.60 L453.00,1300.60" fill="none" stroke="#3c5677" stroke-width="3.1" stroke-linejoin="miter" stroke-linecap="butt"/>
<line x1="203.80" y1="1195.00" x2="203.80" y2="1204.00" stroke="#982537" stroke-width="1.8" stroke-linecap="round"/>
<line x1="211.20" y1="1195.00" x2="211.20" y2="1204.00" stroke="#982537" stroke-width="1.8" stroke-linecap="round"/>
<line x1="280.20" y1="1195.00" x2="280.20" y2="1204.00" stroke="#982537" stroke-width="1.8" stroke-linecap="round"/>
<line x1="285.20" y1="1195.00" x2="285.20" y2="1204.00" stroke="#982537" stroke-width="1.8" stroke-linecap="round"/>
<line x1="286.80" y1="1195.00" x2="286.80" y2="1204.00" stroke="#982537" stroke-width="1.8" stroke-linecap="round"/>
<line x1="299.40" y1="1195.00" x2="299.40" y2="1204.00" stroke="#982537" stroke-width="1.8" stroke-linecap="round"/>
<line x1="359.80" y1="1195.00" x2="359.80" y2="1204.00" stroke="#982537" stroke-width="1.8" stroke-linecap="round"/>
<line x1="380.20" y1="1195.00" x2="380.20" y2="1204.00" stroke="#982537" stroke-width="1.8" stroke-linecap="round"/>
<line x1="386.20" y1="1195.00" x2="386.20" y2="1204.00" stroke="#982537" stroke-width="1.8" stroke-linecap="round"/>
<line x1="389.20" y1="1195.00" x2="389.20" y2="1204.00" stroke="#982537" stroke-width="1.8" stroke-linecap="round"/>
<line x1="487.30" y1="1195.00" x2="487.30" y2="1204.00" stroke="#982537" stroke-width="1.8" stroke-linecap="round"/>
<line x1="490.00" y1="1195.00" x2="490.00" y2="1204.00" stroke="#982537" stroke-width="1.8" stroke-linecap="round"/>
<line x1="253.00" y1="1267.80" x2="253.00" y2="1276.80" stroke="#3c5677" stroke-width="1.8" stroke-linecap="round"/>
<line x1="257.30" y1="1267.80" x2="257.30" y2="1276.80" stroke="#3c5677" stroke-width="1.8" stroke-linecap="round"/>
<line x1="299.60" y1="1267.80" x2="299.60" y2="1276.80" stroke="#3c5677" stroke-width="1.8" stroke-linecap="round"/>
<line x1="352.00" y1="1296.10" x2="352.00" y2="1305.10" stroke="#3c5677" stroke-width="1.8" stroke-linecap="round"/>
<line x1="390.00" y1="1296.10" x2="390.00" y2="1305.10" stroke="#3c5677" stroke-width="1.8" stroke-linecap="round"/>
<line x1="393.80" y1="1296.10" x2="393.80" y2="1305.10" stroke="#3c5677" stroke-width="1.8" stroke-linecap="round"/>
<line x1="441.30" y1="1296.10" x2="441.30" y2="1305.10" stroke="#3c5677" stroke-width="1.8" stroke-linecap="round"/>
<line x1="453.00" y1="1296.10" x2="453.00" y2="1305.10" stroke="#3c5677" stroke-width="1.8" stroke-linecap="round"/>
<text x="118.15" y="1538.60" font-size="13.8" fill="#231f20" stroke="#231f20" stroke-width="0.15" textLength="91.03" lengthAdjust="spacingAndGlyphs">Number at risk</text>
<text x="-1620.82" y="82.10" font-size="14.2" fill="#231f20" stroke="#231f20" stroke-width="0.15" textLength="82.69" lengthAdjust="spacingAndGlyphs" transform="rotate(-90)">miR155 expr.</text>
<line x1="118.60" y1="1558.50" x2="118.60" y2="1603.45" stroke="#000" stroke-width="2.3" stroke-linecap="butt"/>
<line x1="117.45" y1="1602.30" x2="501.50" y2="1602.30" stroke="#000" stroke-width="2.3" stroke-linecap="round"/>
<line x1="117.45" y1="1602.30" x2="118.60" y2="1602.30" stroke="#000" stroke-width="2.3" stroke-linecap="butt"/>
<line x1="93.30" y1="1569.20" x2="113.80" y2="1569.20" stroke="#982537" stroke-width="3.2" stroke-linecap="butt"/>
<line x1="93.30" y1="1591.10" x2="113.80" y2="1591.10" stroke="#3c5677" stroke-width="3.2" stroke-linecap="butt"/>
<line x1="136.25" y1="1602.30" x2="136.25" y2="1608.80" stroke="#000" stroke-width="1.9" stroke-linecap="round"/>
<text x="136.45" y="1629.60" font-size="14.0" text-anchor="middle" fill="#231f20" stroke="#231f20" stroke-width="0.15" >0</text>
<text x="136.65" y="1574.20" font-size="14.0" text-anchor="middle" fill="#231f20" stroke="#231f20" stroke-width="0.15" >14</text>
<text x="136.65" y="1595.70" font-size="14.0" text-anchor="middle" fill="#231f20" stroke="#231f20" stroke-width="0.15" >15</text>
<line x1="192.05" y1="1602.30" x2="192.05" y2="1608.80" stroke="#000" stroke-width="1.9" stroke-linecap="round"/>
<text x="192.25" y="1629.60" font-size="14.0" text-anchor="middle" fill="#231f20" stroke="#231f20" stroke-width="0.15" >2</text>
<text x="192.45" y="1574.20" font-size="14.0" text-anchor="middle" fill="#231f20" stroke="#231f20" stroke-width="0.15" >12</text>
<text x="192.45" y="1595.70" font-size="14.0" text-anchor="middle" fill="#231f20" stroke="#231f20" stroke-width="0.15" >11</text>
<line x1="247.85" y1="1602.30" x2="247.85" y2="1608.80" stroke="#000" stroke-width="1.9" stroke-linecap="round"/>
<text x="248.05" y="1629.60" font-size="14.0" text-anchor="middle" fill="#231f20" stroke="#231f20" stroke-width="0.15" >4</text>
<text x="248.25" y="1574.20" font-size="14.0" text-anchor="middle" fill="#231f20" stroke="#231f20" stroke-width="0.15" >10</text>
<text x="248.25" y="1595.70" font-size="14.0" text-anchor="middle" fill="#231f20" stroke="#231f20" stroke-width="0.15" >9</text>
<line x1="303.65" y1="1602.30" x2="303.65" y2="1608.80" stroke="#000" stroke-width="1.9" stroke-linecap="round"/>
<text x="303.85" y="1629.60" font-size="14.0" text-anchor="middle" fill="#231f20" stroke="#231f20" stroke-width="0.15" >6</text>
<text x="304.05" y="1574.20" font-size="14.0" text-anchor="middle" fill="#231f20" stroke="#231f20" stroke-width="0.15" >6</text>
<text x="304.05" y="1595.70" font-size="14.0" text-anchor="middle" fill="#231f20" stroke="#231f20" stroke-width="0.15" >6</text>
<line x1="359.45" y1="1602.30" x2="359.45" y2="1608.80" stroke="#000" stroke-width="1.9" stroke-linecap="round"/>
<text x="359.65" y="1629.60" font-size="14.0" text-anchor="middle" fill="#231f20" stroke="#231f20" stroke-width="0.15" >8</text>
<text x="359.85" y="1574.20" font-size="14.0" text-anchor="middle" fill="#231f20" stroke="#231f20" stroke-width="0.15" >5</text>
<text x="359.85" y="1595.70" font-size="14.0" text-anchor="middle" fill="#231f20" stroke="#231f20" stroke-width="0.15" >4</text>
<line x1="415.25" y1="1602.30" x2="415.25" y2="1608.80" stroke="#000" stroke-width="1.9" stroke-linecap="round"/>
<text x="415.45" y="1629.60" font-size="14.0" text-anchor="middle" fill="#231f20" stroke="#231f20" stroke-width="0.15" >10</text>
<text x="415.65" y="1574.20" font-size="14.0" text-anchor="middle" fill="#231f20" stroke="#231f20" stroke-width="0.15" >2</text>
<text x="415.65" y="1595.70" font-size="14.0" text-anchor="middle" fill="#231f20" stroke="#231f20" stroke-width="0.15" >2</text>
<line x1="471.05" y1="1602.30" x2="471.05" y2="1608.80" stroke="#000" stroke-width="1.9" stroke-linecap="round"/>
<text x="471.25" y="1629.60" font-size="14.0" text-anchor="middle" fill="#231f20" stroke="#231f20" stroke-width="0.15" >12</text>
<text x="471.45" y="1574.20" font-size="14.0" text-anchor="middle" fill="#231f20" stroke="#231f20" stroke-width="0.15" >2</text>
<text x="471.45" y="1595.70" font-size="14.0" text-anchor="middle" fill="#231f20" stroke="#231f20" stroke-width="0.15" >0</text>
<text x="214.99" y="1657.50" font-size="19.2" fill="#231f20" stroke="#231f20" stroke-width="0.12" textLength="61.00" lengthAdjust="spacingAndGlyphs">Overall</text>
<text x="280.15" y="1657.50" font-size="19.2" fill="#231f20" stroke="#231f20" stroke-width="0.12" textLength="67.07" lengthAdjust="spacingAndGlyphs">survival</text>
<text x="352.52" y="1657.50" font-size="19.2" fill="#231f20" stroke="#231f20" stroke-width="0.12" textLength="54.16" lengthAdjust="spacingAndGlyphs">(years)</text>
</svg></body></html>
